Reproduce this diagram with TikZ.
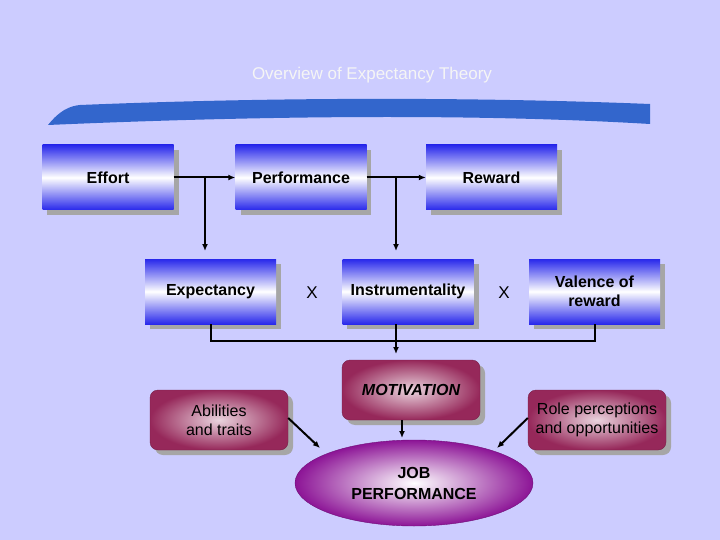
\documentclass[tikz,border=0pt]{standalone}
\usepackage{fontspec}
\setmainfont{Liberation Sans}
\usetikzlibrary{shapes.geometric,arrows.meta}
\definecolor{bg}{RGB}{204,204,255}
\definecolor{bl}{RGB}{40,40,235}
\definecolor{mag}{RGB}{150,40,90}
\definecolor{vio}{RGB}{140,20,150}
\definecolor{ban}{RGB}{51,102,204}
\begin{document}
\begin{tikzpicture}[x=1pt,y=-1pt,
 bbox/.style={minimum width=131pt,minimum height=65pt,inner sep=0pt,top color=bl,bottom color=bl,middle color=white,font=\bfseries\fontsize{16}{19}\selectfont,align=center},
 pbox/.style={minimum width=138pt,minimum height=60pt,inner sep=0pt,rounded corners=8pt,draw=mag!80!black,inner color=white!80!mag,outer color=mag,font=\fontsize{16}{19}\selectfont,align=center},
 shd/.style={fill=black!35},
 arr/.style={-{Latex[length=7pt,width=6pt]},line width=2pt},
 ln/.style={line width=2pt}]
\useasboundingbox (0,0) rectangle (720,540);
\fill[bg] (0,0) rectangle (720,540);
\node[font=\fontsize{17}{20}\selectfont,text=white!92!gray] (title) at (372,75) {Overview of Expectancy Theory};
\fill[ban] (48,125) .. controls (60,110) and (70,106) .. (80,105)
  .. controls (300,96) and (500,98) .. (650,104) -- (650,124) .. controls (500,115) and (300,114) .. (48,125) -- cycle;
% shadows
\foreach \x/\y/\w/\h in {42/145/132/65,236/145/130/65,426/145/131/65,145/259/131/65,342/259/132/65,529/259/131/65}
 \fill[shd] (\x+5,\y+5) rectangle ++(\w,\h);
\foreach \x/\y in {342/360,150/390,528/390}
 \fill[shd,rounded corners=8pt] (\x+5,\y+5) rectangle ++(138,60);
\node[bbox] (eff) at (108,177.5) {Effort};
\node[bbox] (perf) at (301,177.5) {Performance};
\node[bbox] (rew) at (491.5,177.5) {Reward};
\node[bbox] (exp) at (210.5,291.5) {Expectancy};
\node[bbox] (ins) at (408,291.5) {Instrumentality};
\node[bbox] (val) at (594.5,291.5) {Valence of\\reward};
\node[font=\fontsize{17}{20}\selectfont] (x1) at (312,293) {X};
\node[font=\fontsize{17}{20}\selectfont] (x2) at (504,293) {X};
\node[pbox,font=\bfseries\itshape\fontsize{16}{19}\selectfont] (mot) at (411,390) {MOTIVATION};
\node[pbox] (abl) at (219,420) {Abilities\\and traits};
\node[pbox] (role) at (597,420) {Role perceptions\\and opportunities};
\node[ellipse,minimum width=238pt,minimum height=86pt,inner sep=0pt,inner color=white,outer color=vio,draw=vio!80!black,font=\bfseries\fontsize{16}{21}\selectfont,align=center] (job) at (414,483) {JOB\\PERFORMANCE};
% connectors
\draw[arr] (eff.east) -- (perf.west);
\draw[arr] (perf.east) -- (rew.west);
\coordinate (b1) at (205,177.5);
\coordinate (b2) at (396,177.5);
\draw[arr] (b1) -- (205,251);
\draw[arr] (b2) -- (396,251);
\coordinate (j) at (396,341);
\draw[ln] (exp.south) |- (j) -| (val.south);
\draw[ln] (ins.south -| j) -- (j);
\draw[arr] (j) -- (396,354);
\draw[arr] (402,420) -- (402,438);
\draw[arr] (abl.east) ++(0,-2) -- (320,448);
\draw[arr] (role.west) ++(0,-2) -- (497,448);
\end{tikzpicture}
\end{document}
